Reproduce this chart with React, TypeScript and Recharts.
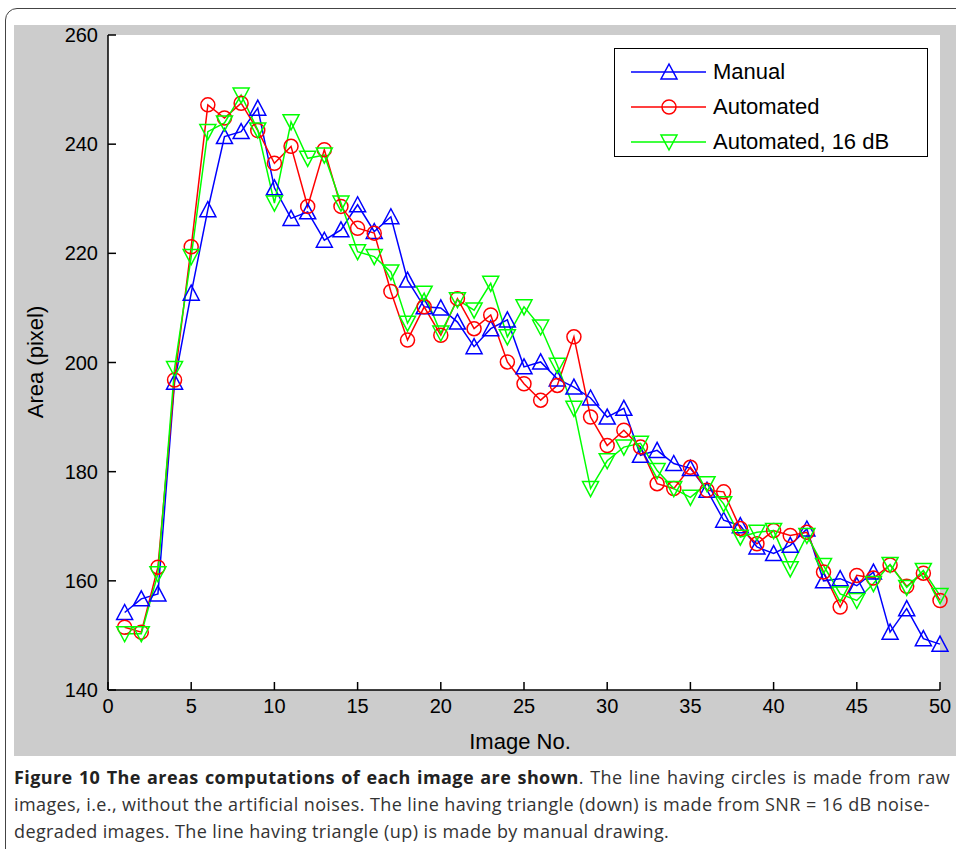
import React from "react";
import { LineChart, Line, XAxis, YAxis, CartesianGrid } from "recharts";

const IMAGE_NO = [
  1, 2, 3, 4, 5, 6, 7, 8, 9, 10, 11, 12, 13, 14, 15, 16, 17, 18, 19, 20, 21, 22, 23, 24, 25,
  26, 27, 28, 29, 30, 31, 32, 33, 34, 35, 36, 37, 38, 39, 40, 41, 42, 43, 44, 45, 46, 47, 48, 49, 50,
];

const MANUAL = [
  154.2, 156.7, 157.6, 196.4, 212.7, 228, 241.4, 242.3, 246.6, 232, 226.4, 227.6, 222.4, 224.3, 228.9,
  224, 226.7, 215.1, 210.2, 210, 207.4, 202.9, 206.2, 207.8, 199.2, 200.1, 197, 195.5, 193.5, 190,
  191.6, 183, 183.9, 181.5, 180.6, 176.6, 171.1, 170.1, 166.2, 165, 166.5, 169.5, 160, 160.4, 159.1,
  161.6, 150.6, 154.9, 149.4, 148.4,
];

const AUTOMATED = [
  151.5, 150.6, 162.5, 196.8, 221.2, 247.2, 244.8, 247.5, 242.5, 236.5, 239.6, 228.6, 239, 228.6, 224.6,
  223.7, 213, 204.1, 210.2, 205, 211.7, 206.2, 208.7, 200.1, 196.1, 193.1, 195.8, 204.7, 190, 184.8,
  187.6, 184.5, 177.8, 176.9, 180.8, 176.6, 176.3, 169.6, 166.8, 169.2, 168.3, 168.9, 161.6, 155.2, 161,
  160.5, 162.9, 159, 161.4, 156.4,
];

const AUTOMATED_16DB = [
  150.3, 150.3, 161.3, 198.9, 219.4, 242.3, 243.9, 249, 242.6, 229.2, 244.1, 237.4, 238, 229.2, 220.3,
  219.4, 216.6, 207.2, 212.7, 205.4, 211.5, 209.6, 214.5, 204.7, 210.2, 206.5, 199.5, 191.6, 176.9, 182,
  184.5, 185.2, 180.2, 176.9, 175.3, 177.8, 174.1, 168, 168.9, 169.2, 162.2, 168.3, 162.8, 157.6, 156.4,
  159.5, 163, 158.8, 161.9, 157.3,
];

const X_TICKS = [0, 5, 10, 15, 20, 25, 30, 35, 40, 45, 50];
const Y_TICKS = [140, 160, 180, 200, 220, 240, 260];

const data = IMAGE_NO.map((n, i) => ({
  n,
  manual: MANUAL[i],
  automated: AUTOMATED[i],
  noisy: AUTOMATED_16DB[i],
}));

const BLUE = "#0000ff";
const RED = "#ff0000";
const GREEN = "#00ff00";
const AXIS_FONT = "'Liberation Sans', Arial, sans-serif";

// matlab-ish markers
const triUp = (cx: number, cy: number, c: string, k?: string | number) => (
  <polygon key={k} points={`${cx},${cy - 8} ${cx - 8},${cy + 7} ${cx + 8},${cy + 7}`} fill="none" stroke={c} strokeWidth={1.5} />
);
const triDown = (cx: number, cy: number, c: string, k?: string | number) => (
  <polygon key={k} points={`${cx - 8},${cy - 7} ${cx + 8},${cy - 7} ${cx},${cy + 8}`} fill="none" stroke={c} strokeWidth={1.5} />
);
const circ = (cx: number, cy: number, c: string, k?: string | number) => (
  <circle key={k} cx={cx} cy={cy} r={7} fill="none" stroke={c} strokeWidth={1.5} />
);

const dotFn = (draw: typeof circ, c: string) => (p: any) => {
  if (p.cx == null || p.cy == null) return <g key={p.index} />;
  return draw(p.cx, p.cy, c, p.index);
};

const LEGEND = [
  { label: "Manual", color: BLUE, draw: triUp },
  { label: "Automated", color: RED, draw: circ },
  { label: "Automated, 16 dB", color: GREEN, draw: triDown },
];

const App: React.FC = () => {
  return (
    <div style={{ position: "absolute", left: 0, top: 0, width: 956, height: 849, overflow: "hidden", background: "#fff" }}>
      {/* card border */}
      <div
        style={{
          position: "absolute", left: 5, top: 8, width: 990, height: 900,
          border: "1.5px solid #444", borderRadius: 12,
        }}
      />
      {/* matlab figure grey */}
      <div style={{ position: "absolute", left: 14, top: 25, width: 942, height: 731, background: "#cccccc" }} />

      <div style={{ position: "absolute", left: 0, top: 0 }}>
        <LineChart
          width={956}
          height={849}
          data={data}
          margin={{ top: 35, right: 16, bottom: 119, left: 14 }}
        >
          <CartesianGrid horizontal={false} vertical={false} fill="#ffffff" />
          <XAxis
            xAxisId="b"
            dataKey="n"
            type="number"
            domain={[0, 50]}
            ticks={X_TICKS}
            height={40}
            tickSize={-8}
            tickMargin={17}
            interval={0}
            axisLine={{ stroke: "#000", strokeWidth: 1.5 }}
            tickLine={{ stroke: "#000", strokeWidth: 1.5 }}
            tick={{ fill: "#000", fontSize: 20, fontFamily: AXIS_FONT }}
          />
          <XAxis
            xAxisId="t"
            dataKey="n"
            type="number"
            orientation="top"
            domain={[0, 50]}
            ticks={X_TICKS}
            height={0}
            tickSize={-8}
            interval={0}
            tick={false}
            axisLine={{ stroke: "#000", strokeWidth: 1.5 }}
            tickLine={{ stroke: "#000", strokeWidth: 1.5 }}
          />
          <YAxis
            yAxisId="l"
            type="number"
            domain={[140, 260]}
            ticks={Y_TICKS}
            width={94}
            tickSize={-8}
            tickMargin={18}
            interval={0}
            axisLine={{ stroke: "#000", strokeWidth: 1.5 }}
            tickLine={{ stroke: "#000", strokeWidth: 1.5 }}
            tick={{ fill: "#000", fontSize: 20, fontFamily: AXIS_FONT }}
          />
          <YAxis
            yAxisId="r"
            orientation="right"
            type="number"
            domain={[140, 260]}
            ticks={Y_TICKS}
            width={0}
            tickSize={-8}
            interval={0}
            tick={false}
            axisLine={{ stroke: "#000", strokeWidth: 1.5 }}
            tickLine={{ stroke: "#000", strokeWidth: 1.5 }}
          />
          <Line xAxisId="b" yAxisId="l" dataKey="manual" stroke={BLUE} strokeWidth={1.5} dot={dotFn(triUp, BLUE)} activeDot={false} isAnimationActive={false} />
          <Line xAxisId="b" yAxisId="l" dataKey="automated" stroke={RED} strokeWidth={1.5} dot={dotFn(circ, RED)} activeDot={false} isAnimationActive={false} />
          <Line xAxisId="b" yAxisId="l" dataKey="noisy" stroke={GREEN} strokeWidth={1.5} dot={dotFn(triDown, GREEN)} activeDot={false} isAnimationActive={false} />
        </LineChart>
      </div>

      {/* legend box */}
      <div
        style={{
          position: "absolute", left: 614, top: 48, width: 314, height: 109,
          background: "#fff", border: "1.5px solid #000", boxSizing: "border-box",
        }}
      >
        {LEGEND.map((l, i) => (
          <div key={l.label} style={{ position: "absolute", left: 0, top: 8 + i * 35, height: 30, display: "flex", alignItems: "center" }}>
            <svg width={98} height={30} style={{ display: "block" }}>
              <line x1={16} x2={91} y1={15} y2={15} stroke={l.color} strokeWidth={1.5} />
              {l.draw(54, 15, l.color)}
            </svg>
            <span style={{ fontFamily: AXIS_FONT, fontSize: 22, color: "#000", whiteSpace: "nowrap" }}>{l.label}</span>
          </div>
        ))}
      </div>

      {/* axis titles */}
      <div
        style={{
          position: "absolute", left: 520, top: 742, transform: "translate(-50%, -50%)",
          fontFamily: AXIS_FONT, fontSize: 22, color: "#000", whiteSpace: "nowrap",
        }}
      >
        Image No.
      </div>
      <div
        style={{
          position: "absolute", left: 36, top: 362, transform: "translate(-50%, -50%) rotate(-90deg)",
          fontFamily: AXIS_FONT, fontSize: 22, color: "#000", whiteSpace: "nowrap",
        }}
      >
        Area (pixel)
      </div>

      {/* caption */}
      <div
        style={{
          position: "absolute", left: 14, top: 764, width: 936,
          fontFamily: "'Open Sans', 'Noto Sans', sans-serif", fontSize: 18, lineHeight: "27px",
          letterSpacing: "0.4px", color: "#333",
        }}
      >
        <div style={{ textAlign: "justify", textAlignLast: "justify", whiteSpace: "nowrap" }}>
          <b style={{ color: "#222" }}>Figure 10 The areas computations of each image are shown</b>. The line having circles is made from raw
        </div>
        <div style={{ whiteSpace: "nowrap" }}>
          images, i.e., without the artificial noises. The line having triangle (down) is made from SNR = 16 dB noise-
        </div>
        <div style={{ whiteSpace: "nowrap" }}>degraded images. The line having triangle (up) is made by manual drawing.</div>
      </div>
    </div>
  );
};

export default App;
